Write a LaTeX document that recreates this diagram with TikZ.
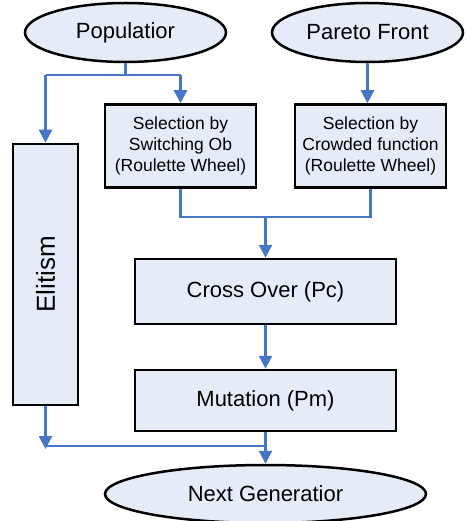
\documentclass[tikz,border=0pt]{standalone}
\usepackage{fontspec}
\setmainfont{Liberation Sans}
\usetikzlibrary{shapes.geometric,arrows.meta}
\definecolor{boxfill}{RGB}{230,236,247}
\definecolor{linkblue}{RGB}{70,118,198}
\begin{document}
\begin{tikzpicture}[x=1pt, y=-1pt,
        box/.style={draw=black, fill=boxfill, line width=2.5pt, rectangle, inner sep=0pt, align=center},
        oval/.style={draw=black, fill=boxfill, line width=2.5pt, ellipse, inner sep=0pt},
        link/.style={linkblue, line width=2.5pt},
        arr/.style={link, -{Triangle[width=13pt,length=13pt]}},
        big/.style={font=\fontsize{22}{26}\selectfont},
        small/.style={font=\fontsize{17.5}{21}\selectfont}]
        \useasboundingbox (0,0) rectangle (466,521);

        % start and end
        \node[oval, big, minimum width=201pt, minimum height=59pt] (pop) at (125.5,32.5) {Populatior};
        \node[oval, big, minimum width=191pt, minimum height=59pt] (pareto) at (367.5,32.5) {Pareto Front};
        \node[oval, big, minimum width=321pt, minimum height=58pt] (next) at (265.5,494) {Next Generatior};

        % selection
        \node[box, small, minimum width=151pt, minimum height=83pt] (selsw) at (180.5,146) {Selection by\\Switching Ob\\(Roulette Wheel)};
        \node[box, small, minimum width=151pt, minimum height=83pt] (selcr) at (370.5,146) {Selection by\\Crowded function\\(Roulette Wheel)};

        % operators
        \node[box, minimum width=65pt, minimum height=261pt] (elit) at (45.5,274.5) {};
        \node[font=\fontsize{26}{30}\selectfont, rotate=90] at (elit.center) {Elitism};
        \node[box, big, minimum width=261pt, minimum height=65pt] (cross) at (265.5,291.5) {Cross Over (Pc)};
        \node[box, big, minimum width=261pt, minimum height=61pt] (mut) at (265.5,400.5) {Mutation (Pm)};

        \coordinate (popsplit) at (125.5,75);
        \coordinate (selmerge) at (265.5,217);
        \coordinate (joinall) at (265.5,446);

        \draw[link] (pop.south) -- (popsplit);
        \draw[link] (elit.north |- popsplit) -- (selsw.north |- popsplit);
        \draw[arr] (elit.north |- popsplit) -- (elit.north);
        \draw[arr] (selsw.north |- popsplit) -- (selsw.north);
        \draw[arr] (pareto.south) -- (pareto.south |- selcr.north);

        \draw[link] (selsw.south) -- (selsw.south |- selmerge) -- (selcr.south |- selmerge) -- (selcr.south);
        \draw[arr] (selmerge) -- (cross.north);
        \draw[arr] (cross.south) -- (mut.north);

        \draw[arr] (elit.south) -- ([yshift=-3pt]elit.south |- joinall);
        \draw[link] (elit.south |- joinall) -- (joinall);
        \draw[arr] (mut.south) -- (next.north);
    \end{tikzpicture}
\end{document}
